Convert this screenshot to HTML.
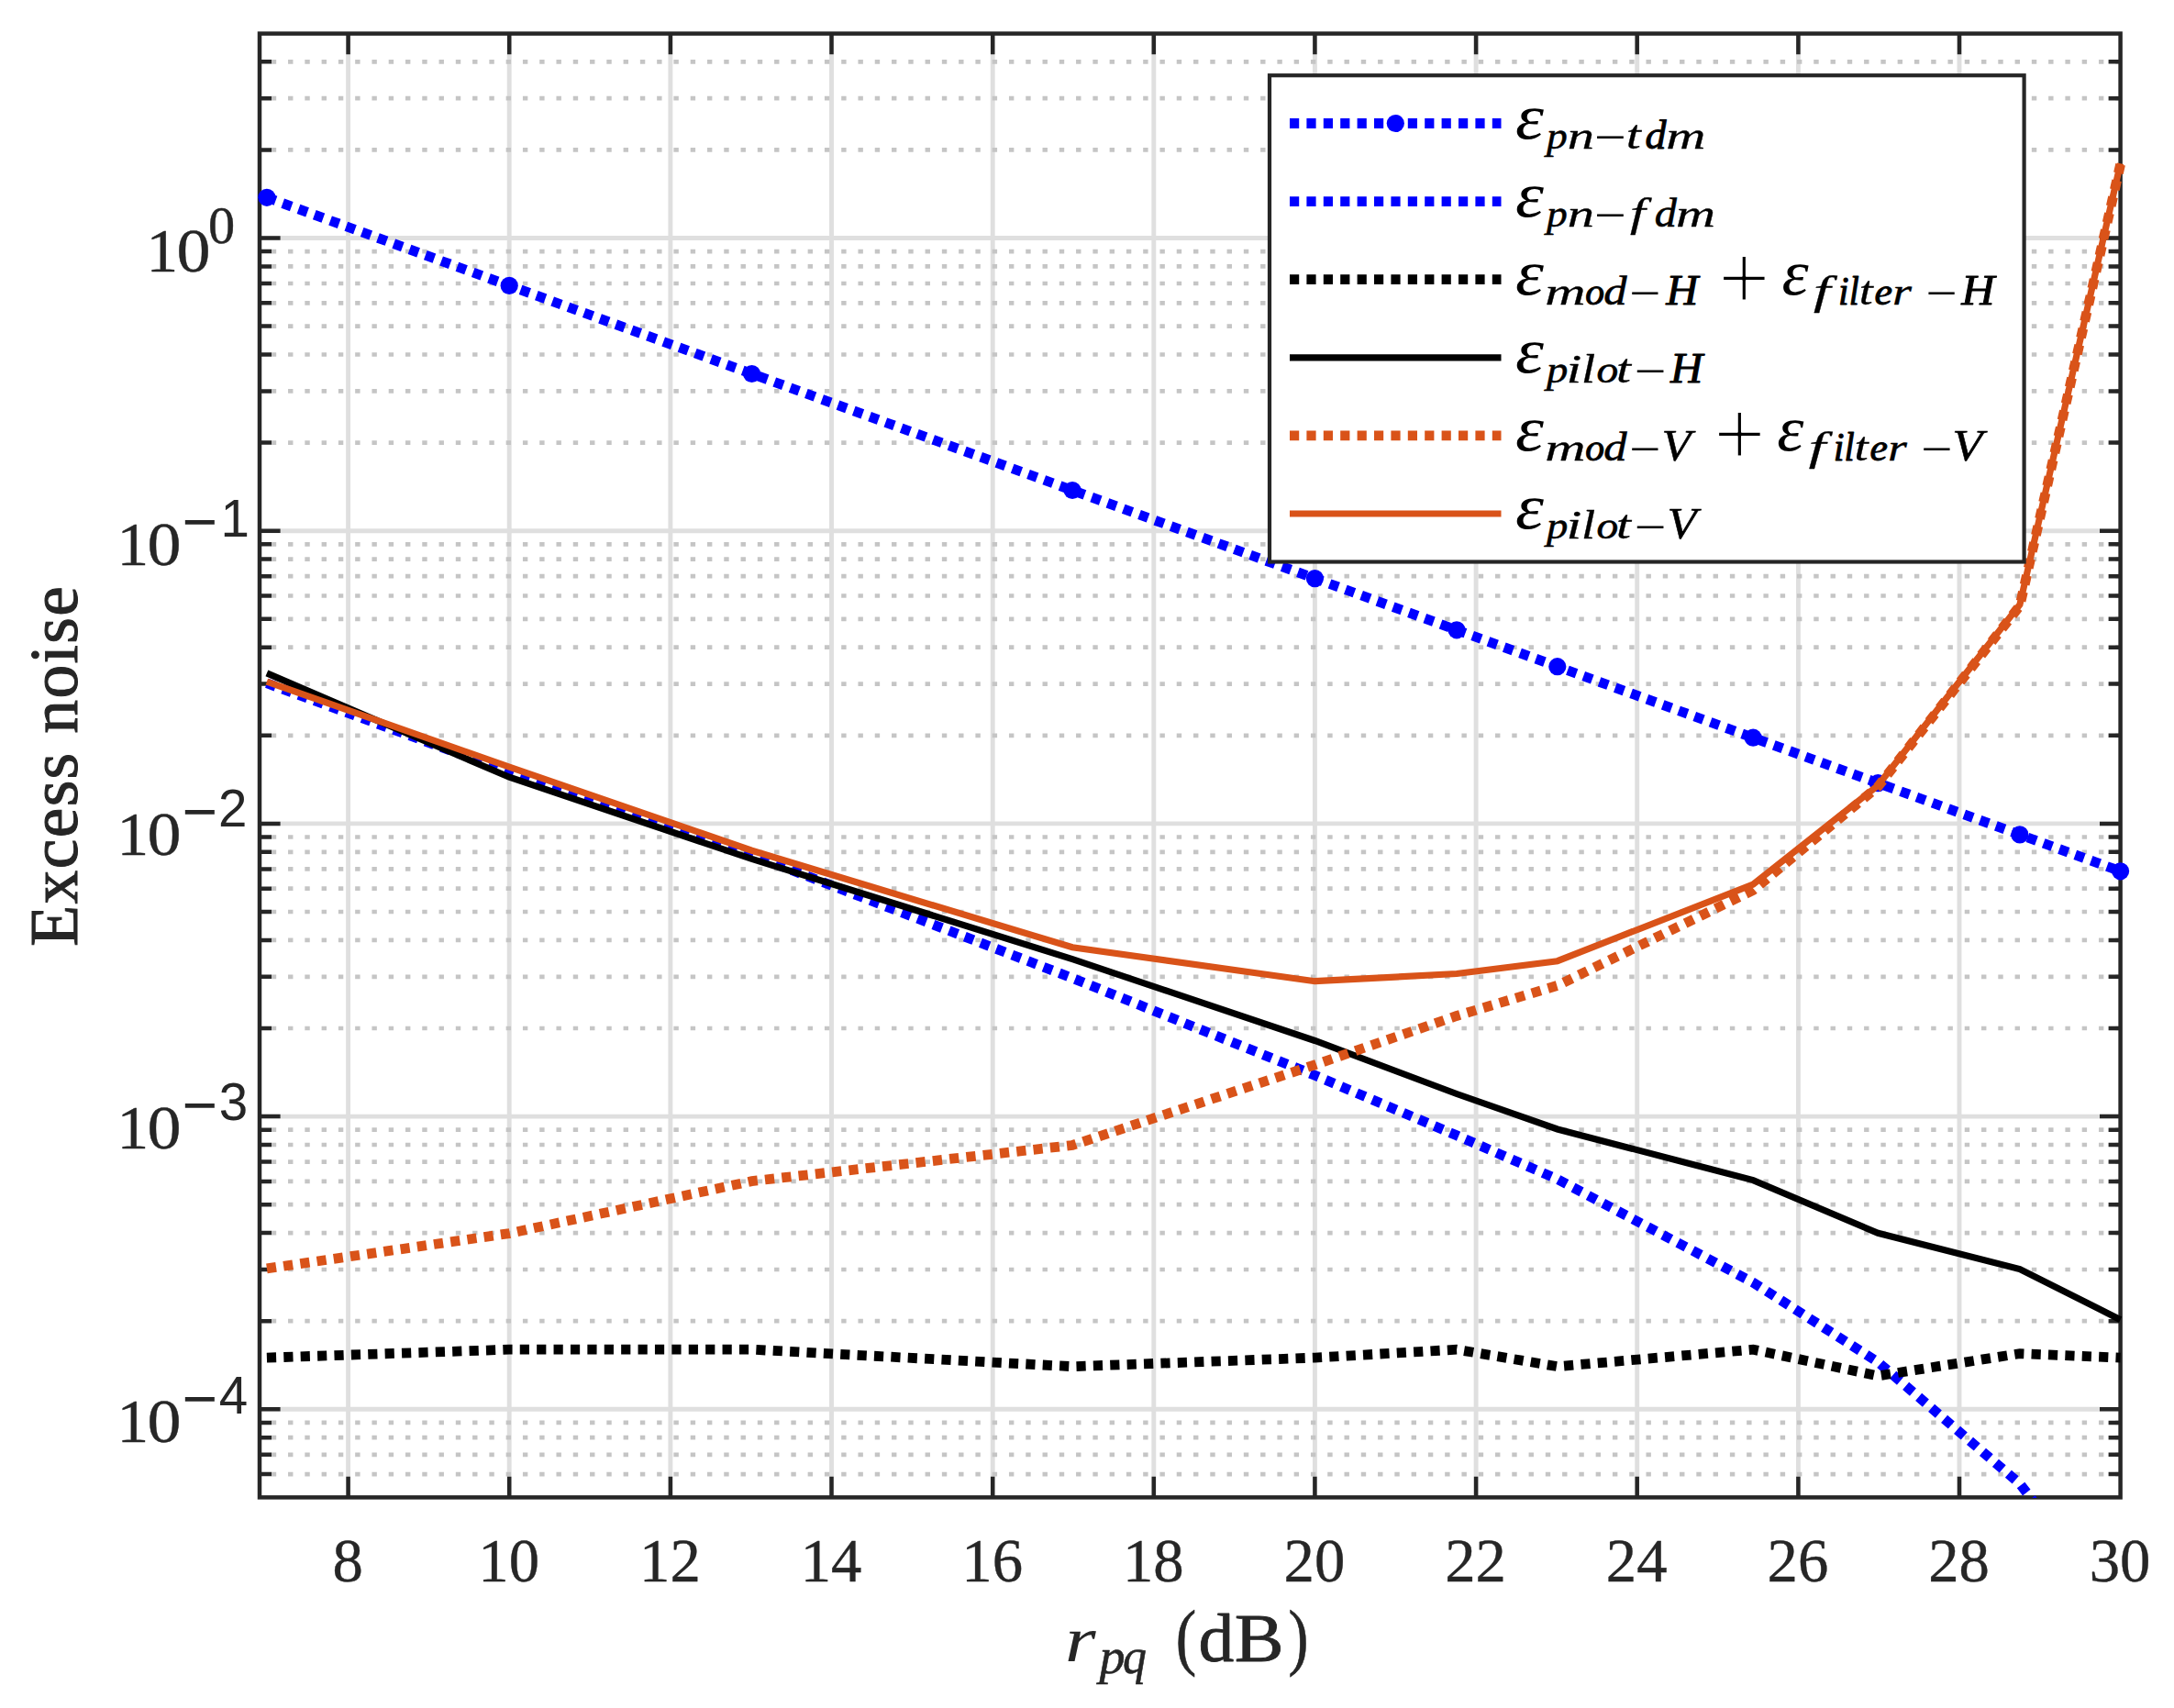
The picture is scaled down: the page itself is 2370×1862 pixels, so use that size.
<!DOCTYPE html>
<html lang="en"><head><meta charset="utf-8"><title>Excess noise vs r_pq</title>
<style>html,body{margin:0;padding:0;background:#fff}svg{display:block}text{font-family:"Liberation Serif",serif;fill:#262626}.it{font-style:italic}.sans{font-family:"Liberation Sans",sans-serif}.lg text,.lg{fill:#000}</style></head><body>
<svg width="2370" height="1862" viewBox="0 0 2370 1862">
<rect x="0" y="0" width="2370" height="1862" fill="#fff"/>
<defs><clipPath id="ax"><rect x="277.0" y="36.6" width="2040.6" height="1596.4"/></clipPath></defs>
<path d="M379.6 36.6V1632.4M555.2 36.6V1632.4M730.9 36.6V1632.4M906.5 36.6V1632.4M1082.2 36.6V1632.4M1257.8 36.6V1632.4M1433.4 36.6V1632.4M1609.1 36.6V1632.4M1784.7 36.6V1632.4M1960.4 36.6V1632.4M2136.0 36.6V1632.4M283.0 1536.3H2311.6M283.0 1217.1H2311.6M283.0 897.9H2311.6M283.0 578.7H2311.6M283.0 259.5H2311.6" stroke="#dfdfdf" stroke-width="4.9" fill="none"/>
<path d="M283.0 1607.1H2311.6M283.0 1585.8H2311.6M283.0 1567.2H2311.6M283.0 1550.9H2311.6M283.0 1440.2H2311.6M283.0 1384.0H2311.6M283.0 1344.1H2311.6M283.0 1313.2H2311.6M283.0 1287.9H2311.6M283.0 1266.6H2311.6M283.0 1248.0H2311.6M283.0 1231.7H2311.6M283.0 1121.0H2311.6M283.0 1064.8H2311.6M283.0 1024.9H2311.6M283.0 994.0H2311.6M283.0 968.7H2311.6M283.0 947.4H2311.6M283.0 928.8H2311.6M283.0 912.5H2311.6M283.0 801.8H2311.6M283.0 745.6H2311.6M283.0 705.7H2311.6M283.0 674.8H2311.6M283.0 649.5H2311.6M283.0 628.2H2311.6M283.0 609.6H2311.6M283.0 593.3H2311.6M283.0 482.6H2311.6M283.0 426.4H2311.6M283.0 386.5H2311.6M283.0 355.6H2311.6M283.0 330.3H2311.6M283.0 309.0H2311.6M283.0 290.4H2311.6M283.0 274.1H2311.6M283.0 163.4H2311.6M283.0 107.2H2311.6M283.0 67.3H2311.6" stroke="#c5c5c5" stroke-width="4.7" stroke-dasharray="5.4 12.877" stroke-dashoffset="5.5" fill="none"/>
<g stroke="#262626" stroke-width="4.5" fill="none" stroke-linecap="butt">
<rect x="283.0" y="36.6" width="2028.6" height="1595.8000000000002"/>
<path d="M379.6 1632.4V1609.8M379.6 36.6V59.2"/>
<path d="M555.2 1632.4V1609.8M555.2 36.6V59.2"/>
<path d="M730.9 1632.4V1609.8M730.9 36.6V59.2"/>
<path d="M906.5 1632.4V1609.8M906.5 36.6V59.2"/>
<path d="M1082.2 1632.4V1609.8M1082.2 36.6V59.2"/>
<path d="M1257.8 1632.4V1609.8M1257.8 36.6V59.2"/>
<path d="M1433.4 1632.4V1609.8M1433.4 36.6V59.2"/>
<path d="M1609.1 1632.4V1609.8M1609.1 36.6V59.2"/>
<path d="M1784.7 1632.4V1609.8M1784.7 36.6V59.2"/>
<path d="M1960.4 1632.4V1609.8M1960.4 36.6V59.2"/>
<path d="M2136.0 1632.4V1609.8M2136.0 36.6V59.2"/>
<path d="M283.0 1536.3H305.6M2311.6 1536.3H2289.0"/>
<path d="M283.0 1217.1H305.6M2311.6 1217.1H2289.0"/>
<path d="M283.0 897.9H305.6M2311.6 897.9H2289.0"/>
<path d="M283.0 578.7H305.6M2311.6 578.7H2289.0"/>
<path d="M283.0 259.5H305.6M2311.6 259.5H2289.0"/>
<path d="M283.0 1607.1H296.0M2311.6 1607.1H2298.6"/>
<path d="M283.0 1585.8H296.0M2311.6 1585.8H2298.6"/>
<path d="M283.0 1567.2H296.0M2311.6 1567.2H2298.6"/>
<path d="M283.0 1550.9H296.0M2311.6 1550.9H2298.6"/>
<path d="M283.0 1440.2H296.0M2311.6 1440.2H2298.6"/>
<path d="M283.0 1384.0H296.0M2311.6 1384.0H2298.6"/>
<path d="M283.0 1344.1H296.0M2311.6 1344.1H2298.6"/>
<path d="M283.0 1313.2H296.0M2311.6 1313.2H2298.6"/>
<path d="M283.0 1287.9H296.0M2311.6 1287.9H2298.6"/>
<path d="M283.0 1266.6H296.0M2311.6 1266.6H2298.6"/>
<path d="M283.0 1248.0H296.0M2311.6 1248.0H2298.6"/>
<path d="M283.0 1231.7H296.0M2311.6 1231.7H2298.6"/>
<path d="M283.0 1121.0H296.0M2311.6 1121.0H2298.6"/>
<path d="M283.0 1064.8H296.0M2311.6 1064.8H2298.6"/>
<path d="M283.0 1024.9H296.0M2311.6 1024.9H2298.6"/>
<path d="M283.0 994.0H296.0M2311.6 994.0H2298.6"/>
<path d="M283.0 968.7H296.0M2311.6 968.7H2298.6"/>
<path d="M283.0 947.4H296.0M2311.6 947.4H2298.6"/>
<path d="M283.0 928.8H296.0M2311.6 928.8H2298.6"/>
<path d="M283.0 912.5H296.0M2311.6 912.5H2298.6"/>
<path d="M283.0 801.8H296.0M2311.6 801.8H2298.6"/>
<path d="M283.0 745.6H296.0M2311.6 745.6H2298.6"/>
<path d="M283.0 705.7H296.0M2311.6 705.7H2298.6"/>
<path d="M283.0 674.8H296.0M2311.6 674.8H2298.6"/>
<path d="M283.0 649.5H296.0M2311.6 649.5H2298.6"/>
<path d="M283.0 628.2H296.0M2311.6 628.2H2298.6"/>
<path d="M283.0 609.6H296.0M2311.6 609.6H2298.6"/>
<path d="M283.0 593.3H296.0M2311.6 593.3H2298.6"/>
<path d="M283.0 482.6H296.0M2311.6 482.6H2298.6"/>
<path d="M283.0 426.4H296.0M2311.6 426.4H2298.6"/>
<path d="M283.0 386.5H296.0M2311.6 386.5H2298.6"/>
<path d="M283.0 355.6H296.0M2311.6 355.6H2298.6"/>
<path d="M283.0 330.3H296.0M2311.6 330.3H2298.6"/>
<path d="M283.0 309.0H296.0M2311.6 309.0H2298.6"/>
<path d="M283.0 290.4H296.0M2311.6 290.4H2298.6"/>
<path d="M283.0 274.1H296.0M2311.6 274.1H2298.6"/>
<path d="M283.0 163.4H296.0M2311.6 163.4H2298.6"/>
<path d="M283.0 107.2H296.0M2311.6 107.2H2298.6"/>
<path d="M283.0 67.3H296.0M2311.6 67.3H2298.6"/>
</g>
<g clip-path="url(#ax)" fill="none" stroke-linejoin="miter">
<polyline points="290.9,215.3 555.2,311.4 819.6,407.5 1169.1,534.5 1433.4,630.6 1588.0,686.8 1697.8,726.7 1911.2,804.2 2047.3,853.7 2201.9,909.9 2311.6,949.8" stroke="#0000ff" stroke-width="10.8" stroke-dasharray="10.2 8.2"/>
</g>
<g fill="#0000ff">
<circle cx="290.9" cy="215.3" r="9.6"/>
<circle cx="555.2" cy="311.4" r="9.6"/>
<circle cx="819.6" cy="407.5" r="9.6"/>
<circle cx="1169.1" cy="534.5" r="9.6"/>
<circle cx="1433.4" cy="630.6" r="9.6"/>
<circle cx="1588.0" cy="686.8" r="9.6"/>
<circle cx="1697.8" cy="726.7" r="9.6"/>
<circle cx="1911.2" cy="804.2" r="9.6"/>
<circle cx="2047.3" cy="853.7" r="9.6"/>
<circle cx="2201.9" cy="909.9" r="9.6"/>
<circle cx="2311.6" cy="949.8" r="9.6"/>
</g>
<g clip-path="url(#ax)" fill="none" stroke-linejoin="miter">
<polyline points="290.9,744.8 555.2,841.6 819.6,931.8 1169.1,1066.3 1433.4,1172.3 1588.0,1237.8 1697.8,1285.5 1911.2,1398.2 2047.3,1484.9 2201.9,1617.5 2311.6,1760.0" stroke="#0000ff" stroke-width="10.8" stroke-dasharray="10.2 8.2"/>
<polyline points="290.9,1480.1 555.2,1471.2 819.6,1471.2 1169.1,1489.7 1433.4,1480.1 1588.0,1471.2 1697.8,1489.7 1911.2,1471.2 2047.3,1499.9 2201.9,1475.6 2311.6,1480.1" stroke="#000000" stroke-width="10.8" stroke-dasharray="10.2 8.2"/>
<polyline points="290.9,733.9 555.2,847.2 819.6,936.4 1169.1,1045.6 1433.4,1134.5 1588.0,1192.5 1697.8,1231.0 1911.2,1286.6 2047.3,1344.3 2201.9,1383.6 2311.6,1438.7" stroke="#000000" stroke-width="7.2"/>
<polyline points="290.9,1382.9 555.2,1344.6 819.6,1287.6 1169.1,1248.5 1433.4,1160.8 1588.0,1107.5 1697.8,1074.4 1911.2,970.5 2047.3,857.5 2201.9,660.5 2311.6,179.3" stroke="#d95319" stroke-width="10.8" stroke-dasharray="10.2 8.2"/>
<polyline points="290.9,743.1 555.2,836.1 819.6,927.2 1169.1,1032.8 1433.4,1069.7 1588.0,1061.5 1697.8,1047.7 1911.2,964.0 2047.3,856.2 2201.9,659.2 2311.6,178.3" stroke="#d95319" stroke-width="7.2"/>
</g>
<text font-size="68.4" text-anchor="middle" stroke="#262626" stroke-width="0.4" transform="translate(379.1 1724.4) scale(0.975 1)">8</text>
<text font-size="68.4" text-anchor="middle" stroke="#262626" stroke-width="0.4" transform="translate(554.7 1724.4) scale(0.975 1)">10</text>
<text font-size="68.4" text-anchor="middle" stroke="#262626" stroke-width="0.4" transform="translate(730.4 1724.4) scale(0.975 1)">12</text>
<text font-size="68.4" text-anchor="middle" stroke="#262626" stroke-width="0.4" transform="translate(906.0 1724.4) scale(0.975 1)">14</text>
<text font-size="68.4" text-anchor="middle" stroke="#262626" stroke-width="0.4" transform="translate(1081.7 1724.4) scale(0.975 1)">16</text>
<text font-size="68.4" text-anchor="middle" stroke="#262626" stroke-width="0.4" transform="translate(1257.3 1724.4) scale(0.975 1)">18</text>
<text font-size="68.4" text-anchor="middle" stroke="#262626" stroke-width="0.4" transform="translate(1432.9 1724.4) scale(0.975 1)">20</text>
<text font-size="68.4" text-anchor="middle" stroke="#262626" stroke-width="0.4" transform="translate(1608.6 1724.4) scale(0.975 1)">22</text>
<text font-size="68.4" text-anchor="middle" stroke="#262626" stroke-width="0.4" transform="translate(1784.2 1724.4) scale(0.975 1)">24</text>
<text font-size="68.4" text-anchor="middle" stroke="#262626" stroke-width="0.4" transform="translate(1959.9 1724.4) scale(0.975 1)">26</text>
<text font-size="68.4" text-anchor="middle" stroke="#262626" stroke-width="0.4" transform="translate(2135.5 1724.4) scale(0.975 1)">28</text>
<text font-size="68.4" text-anchor="middle" stroke="#262626" stroke-width="0.4" transform="translate(2311.1 1724.4) scale(0.975 1)">30</text>
<text font-size="68.4" transform="translate(127.51 1572.0) scale(1.013 1)" fill="#262626" stroke="#262626" stroke-width="0.4" vector-effect="non-scaling-stroke" stroke-linejoin="round">1</text>
<text font-size="68.4" transform="translate(160.58 1572.0) scale(1.083 1)" fill="#262626" stroke="#262626" stroke-width="0.4" vector-effect="non-scaling-stroke" stroke-linejoin="round">0</text>
<text class="sans" font-size="66.0" transform="translate(198.65 1547.0) scale(0.998 1)">−</text>
<text class="sans" font-size="56.5" transform="translate(238.70 1540.8) scale(1.000 1)">4</text>
<text font-size="68.4" transform="translate(127.51 1252.0) scale(1.013 1)" fill="#262626" stroke="#262626" stroke-width="0.4" vector-effect="non-scaling-stroke" stroke-linejoin="round">1</text>
<text font-size="68.4" transform="translate(160.58 1252.0) scale(1.083 1)" fill="#262626" stroke="#262626" stroke-width="0.4" vector-effect="non-scaling-stroke" stroke-linejoin="round">0</text>
<text class="sans" font-size="66.0" transform="translate(198.65 1227.0) scale(0.998 1)">−</text>
<text class="sans" font-size="56.5" transform="translate(238.65 1220.8) scale(1.000 1)">3</text>
<text font-size="68.4" transform="translate(127.51 932.0) scale(1.013 1)" fill="#262626" stroke="#262626" stroke-width="0.4" vector-effect="non-scaling-stroke" stroke-linejoin="round">1</text>
<text font-size="68.4" transform="translate(160.58 932.0) scale(1.083 1)" fill="#262626" stroke="#262626" stroke-width="0.4" vector-effect="non-scaling-stroke" stroke-linejoin="round">0</text>
<text class="sans" font-size="66.0" transform="translate(198.65 907.0) scale(0.998 1)">−</text>
<text class="sans" font-size="56.5" transform="translate(237.96 900.8) scale(1.000 1)">2</text>
<text font-size="68.4" transform="translate(127.51 616.4) scale(1.013 1)" fill="#262626" stroke="#262626" stroke-width="0.4" vector-effect="non-scaling-stroke" stroke-linejoin="round">1</text>
<text font-size="68.4" transform="translate(160.58 616.4) scale(1.083 1)" fill="#262626" stroke="#262626" stroke-width="0.4" vector-effect="non-scaling-stroke" stroke-linejoin="round">0</text>
<text class="sans" font-size="66.0" transform="translate(198.65 591.4) scale(0.998 1)">−</text>
<text class="sans" font-size="56.5" transform="translate(240.50 585.2) scale(1.000 1)">1</text>
<text font-size="68.4" transform="translate(159.51 296.4) scale(1.013 1)" fill="#262626" stroke="#262626" stroke-width="0.4" vector-effect="non-scaling-stroke" stroke-linejoin="round">1</text>
<text font-size="68.4" transform="translate(192.58 296.4) scale(1.083 1)" fill="#262626" stroke="#262626" stroke-width="0.4" vector-effect="non-scaling-stroke" stroke-linejoin="round">0</text>
<text font-size="56.6" transform="translate(226.98 265.1) scale(1.030 1)" fill="#262626" stroke="#262626" stroke-width="0.4" vector-effect="non-scaling-stroke" stroke-linejoin="round">0</text>
<text font-size="73.5" text-anchor="middle" stroke="#262626" stroke-width="1" textLength="392.5" lengthAdjust="spacing" transform="translate(84.3 835.4) rotate(-90)" x="0" y="0">Excess noise</text>
<text class="it" font-size="69.0" transform="translate(1160.90 1811.0) scale(1.253 1)" fill="#262626">r</text>
<text class="it" font-size="54.0" transform="translate(1198.38 1823.8) scale(1.038 1)" fill="#262626" stroke="#262626" stroke-width="0.6" vector-effect="non-scaling-stroke" stroke-linejoin="round">p</text>
<text class="it" font-size="54.0" transform="translate(1224.09 1823.8) scale(0.957 1)" fill="#262626" stroke="#262626" stroke-width="0.6" vector-effect="non-scaling-stroke" stroke-linejoin="round">q</text>
<text font-size="80.0" transform="translate(1281.84 1811.0) scale(0.842 1)" fill="#262626" stroke="#262626" stroke-width="0.6" vector-effect="non-scaling-stroke" stroke-linejoin="round">(</text>
<text font-size="73.5" transform="translate(1306.40 1811.0) scale(1.054 1)" fill="#262626" stroke="#262626" stroke-width="0.8" vector-effect="non-scaling-stroke" stroke-linejoin="round">d</text>
<text font-size="73.5" transform="translate(1345.87 1811.0) scale(1.099 1)" fill="#262626" stroke="#262626" stroke-width="0.8" vector-effect="non-scaling-stroke" stroke-linejoin="round">B</text>
<text font-size="80.0" transform="translate(1404.48 1811.0) scale(0.823 1)" fill="#262626" stroke="#262626" stroke-width="0.6" vector-effect="non-scaling-stroke" stroke-linejoin="round">)</text>
<g class="lg">
<rect x="1384.0" y="82.2" width="822.5999999999999" height="530.3" fill="#fff" stroke="#262626" stroke-width="4.2"/>
<line x1="1406" y1="134.5" x2="1636.5" y2="134.5" stroke="#0000ff" stroke-width="10.8" stroke-dasharray="10.2 8.2"/>
<line x1="1406" y1="219.6" x2="1636.5" y2="219.6" stroke="#0000ff" stroke-width="10.8" stroke-dasharray="10.2 8.2"/>
<line x1="1406" y1="304.7" x2="1636.5" y2="304.7" stroke="#000000" stroke-width="10.8" stroke-dasharray="10.2 8.2"/>
<line x1="1406" y1="389.8" x2="1636.5" y2="389.8" stroke="#000000" stroke-width="7.2"/>
<line x1="1406" y1="474.9" x2="1636.5" y2="474.9" stroke="#d95319" stroke-width="10.8" stroke-dasharray="10.2 8.2"/>
<line x1="1406" y1="560.0" x2="1636.5" y2="560.0" stroke="#d95319" stroke-width="7.2"/>
<circle cx="1521.3" cy="134.5" r="9.6" fill="#0000ff"/>
<text class="it" font-size="69.2" transform="translate(1652.11 151.4) scale(1.136 1)" fill="#000">ε</text>
<text class="it" font-size="42.1" transform="translate(1685.96 161.6) scale(1.079 1)" fill="#000" stroke="#000" stroke-width="0.6" vector-effect="non-scaling-stroke" stroke-linejoin="round">p</text>
<text class="it" font-size="42.5" transform="translate(1708.69 161.6) scale(1.377 1)" fill="#000" stroke="#000" stroke-width="0.35" vector-effect="non-scaling-stroke" stroke-linejoin="round">n</text>
<text class="it" font-size="52.0" transform="translate(1733.96 166.5) scale(1.190 1)" fill="#000">−</text>
<text class="it" font-size="45.0" transform="translate(1772.74 161.6) scale(1.282 1)" fill="#000" stroke="#000" stroke-width="0.35" vector-effect="non-scaling-stroke" stroke-linejoin="round">t</text>
<text class="it" font-size="44.0" transform="translate(1793.38 161.6) scale(1.047 1)" fill="#000" stroke="#000" stroke-width="0.95" vector-effect="non-scaling-stroke" stroke-linejoin="round">d</text>
<text class="it" font-size="42.5" transform="translate(1816.21 161.6) scale(1.408 1)" fill="#000" stroke="#000" stroke-width="0.35" vector-effect="non-scaling-stroke" stroke-linejoin="round">m</text>
<text class="it" font-size="69.2" transform="translate(1652.11 236.4) scale(1.136 1)" fill="#000">ε</text>
<text class="it" font-size="42.1" transform="translate(1685.96 246.6) scale(1.079 1)" fill="#000" stroke="#000" stroke-width="0.6" vector-effect="non-scaling-stroke" stroke-linejoin="round">p</text>
<text class="it" font-size="42.5" transform="translate(1708.69 246.6) scale(1.377 1)" fill="#000" stroke="#000" stroke-width="0.35" vector-effect="non-scaling-stroke" stroke-linejoin="round">n</text>
<text class="it" font-size="52.0" transform="translate(1733.96 251.5) scale(1.190 1)" fill="#000">−</text>
<text class="it" font-size="45.0" transform="translate(1777.00 246.6) scale(1.341 1)" fill="#000" stroke="#000" stroke-width="0.35" vector-effect="non-scaling-stroke" stroke-linejoin="round">f</text>
<text class="it" font-size="44.6" transform="translate(1803.84 246.6) scale(1.083 1)" fill="#000" stroke="#000" stroke-width="0.6" vector-effect="non-scaling-stroke" stroke-linejoin="round">d</text>
<text class="it" font-size="42.5" transform="translate(1827.02 246.6) scale(1.405 1)" fill="#000" stroke="#000" stroke-width="0.35" vector-effect="non-scaling-stroke" stroke-linejoin="round">m</text>
<text class="it" font-size="69.2" transform="translate(1652.11 321.4) scale(1.136 1)" fill="#000">ε</text>
<text class="it" font-size="42.5" transform="translate(1684.36 331.6) scale(1.445 1)" fill="#000" stroke="#000" stroke-width="0.35" vector-effect="non-scaling-stroke" stroke-linejoin="round">m</text>
<text class="it" font-size="41.5" transform="translate(1728.13 331.6) scale(1.004 1)" fill="#000" stroke="#000" stroke-width="0.95" vector-effect="non-scaling-stroke" stroke-linejoin="round">o</text>
<text class="it" font-size="44.6" transform="translate(1748.27 331.6) scale(1.135 1)" fill="#000" stroke="#000" stroke-width="0.6" vector-effect="non-scaling-stroke" stroke-linejoin="round">d</text>
<text class="it" font-size="52.0" transform="translate(1772.18 336.5) scale(1.170 1)" fill="#000">−</text>
<text class="it" font-size="47.0" transform="translate(1816.19 331.6) scale(1.030 1)" fill="#000" stroke="#000" stroke-width="0.95" vector-effect="non-scaling-stroke" stroke-linejoin="round">H</text>
<text font-size="103.4" transform="translate(1873.34 338.4) scale(0.962 1)" fill="#000" stroke="#fff" stroke-width="1.8" vector-effect="non-scaling-stroke" stroke-linejoin="round">+</text>
<text class="it" font-size="69.2" transform="translate(1942.41 321.4) scale(1.069 1)" fill="#000">ε</text>
<text class="it" font-size="45.0" transform="translate(1976.93 331.6) scale(1.475 1)" fill="#000" stroke="#000" stroke-width="0.35" vector-effect="non-scaling-stroke" stroke-linejoin="round">f</text>
<text class="it" font-size="44.0" transform="translate(2003.94 331.6) scale(0.953 1)" fill="#000" stroke="#000" stroke-width="0.95" vector-effect="non-scaling-stroke" stroke-linejoin="round">i</text>
<text class="it" font-size="44.0" transform="translate(2015.76 331.6) scale(0.903 1)" fill="#000" stroke="#000" stroke-width="0.95" vector-effect="non-scaling-stroke" stroke-linejoin="round">l</text>
<text class="it" font-size="45.0" transform="translate(2026.81 331.6) scale(1.195 1)" fill="#000" stroke="#000" stroke-width="0.35" vector-effect="non-scaling-stroke" stroke-linejoin="round">t</text>
<text class="it" font-size="41.5" transform="translate(2043.52 331.6) scale(1.058 1)" fill="#000" stroke="#000" stroke-width="0.95" vector-effect="non-scaling-stroke" stroke-linejoin="round">e</text>
<text class="it" font-size="42.5" transform="translate(2062.98 331.6) scale(1.275 1)" fill="#000" stroke="#000" stroke-width="0.35" vector-effect="non-scaling-stroke" stroke-linejoin="round">r</text>
<text class="it" font-size="52.0" transform="translate(2095.48 336.5) scale(1.170 1)" fill="#000">−</text>
<text class="it" font-size="47.0" transform="translate(2138.21 331.6) scale(1.065 1)" fill="#000" stroke="#000" stroke-width="0.95" vector-effect="non-scaling-stroke" stroke-linejoin="round">H</text>
<text class="it" font-size="69.2" transform="translate(1652.11 406.4) scale(1.136 1)" fill="#000">ε</text>
<text class="it" font-size="42.1" transform="translate(1686.03 416.6) scale(1.106 1)" fill="#000" stroke="#000" stroke-width="0.6" vector-effect="non-scaling-stroke" stroke-linejoin="round">p</text>
<text class="it" font-size="45.0" transform="translate(1707.42 416.6) scale(1.338 1)" fill="#000" stroke="#000" stroke-width="0.35" vector-effect="non-scaling-stroke" stroke-linejoin="round">i</text>
<text class="it" font-size="45.0" transform="translate(1723.97 416.6) scale(1.212 1)" fill="#000" stroke="#000" stroke-width="0.35" vector-effect="non-scaling-stroke" stroke-linejoin="round">l</text>
<text class="it" font-size="42.1" transform="translate(1740.59 416.6) scale(1.128 1)" fill="#000" stroke="#000" stroke-width="0.6" vector-effect="non-scaling-stroke" stroke-linejoin="round">o</text>
<text class="it" font-size="45.0" transform="translate(1762.06 416.6) scale(1.273 1)" fill="#000" stroke="#000" stroke-width="0.35" vector-effect="non-scaling-stroke" stroke-linejoin="round">t</text>
<text class="it" font-size="52.0" transform="translate(1777.68 421.5) scale(1.186 1)" fill="#000">−</text>
<text class="it" font-size="47.0" transform="translate(1821.00 416.6) scale(1.038 1)" fill="#000" stroke="#000" stroke-width="0.95" vector-effect="non-scaling-stroke" stroke-linejoin="round">H</text>
<text class="it" font-size="69.2" transform="translate(1652.11 491.4) scale(1.136 1)" fill="#000">ε</text>
<text class="it" font-size="42.5" transform="translate(1684.36 501.6) scale(1.445 1)" fill="#000" stroke="#000" stroke-width="0.35" vector-effect="non-scaling-stroke" stroke-linejoin="round">m</text>
<text class="it" font-size="41.5" transform="translate(1728.13 501.6) scale(1.004 1)" fill="#000" stroke="#000" stroke-width="0.95" vector-effect="non-scaling-stroke" stroke-linejoin="round">o</text>
<text class="it" font-size="44.6" transform="translate(1748.27 501.6) scale(1.135 1)" fill="#000" stroke="#000" stroke-width="0.6" vector-effect="non-scaling-stroke" stroke-linejoin="round">d</text>
<text class="it" font-size="52.0" transform="translate(1772.18 506.5) scale(1.170 1)" fill="#000">−</text>
<text class="it" font-size="47.6" transform="translate(1811.47 501.6) scale(1.098 1)" fill="#000" stroke="#000" stroke-width="0.6" vector-effect="non-scaling-stroke" stroke-linejoin="round">V</text>
<text font-size="103.4" transform="translate(1868.13 508.4) scale(0.964 1)" fill="#000" stroke="#fff" stroke-width="1.8" vector-effect="non-scaling-stroke" stroke-linejoin="round">+</text>
<text class="it" font-size="69.2" transform="translate(1937.21 491.4) scale(1.069 1)" fill="#000">ε</text>
<text class="it" font-size="45.0" transform="translate(1971.73 501.6) scale(1.481 1)" fill="#000" stroke="#000" stroke-width="0.35" vector-effect="non-scaling-stroke" stroke-linejoin="round">f</text>
<text class="it" font-size="44.0" transform="translate(1998.71 501.6) scale(0.965 1)" fill="#000" stroke="#000" stroke-width="0.95" vector-effect="non-scaling-stroke" stroke-linejoin="round">i</text>
<text class="it" font-size="44.0" transform="translate(2010.53 501.6) scale(0.914 1)" fill="#000" stroke="#000" stroke-width="0.95" vector-effect="non-scaling-stroke" stroke-linejoin="round">l</text>
<text class="it" font-size="45.0" transform="translate(2021.58 501.6) scale(1.212 1)" fill="#000" stroke="#000" stroke-width="0.35" vector-effect="non-scaling-stroke" stroke-linejoin="round">t</text>
<text class="it" font-size="41.5" transform="translate(2038.43 501.6) scale(1.052 1)" fill="#000" stroke="#000" stroke-width="0.95" vector-effect="non-scaling-stroke" stroke-linejoin="round">e</text>
<text class="it" font-size="42.5" transform="translate(2057.89 501.6) scale(1.268 1)" fill="#000" stroke="#000" stroke-width="0.35" vector-effect="non-scaling-stroke" stroke-linejoin="round">r</text>
<text class="it" font-size="52.0" transform="translate(2090.26 506.5) scale(1.174 1)" fill="#000">−</text>
<text class="it" font-size="47.6" transform="translate(2128.17 501.6) scale(1.139 1)" fill="#000" stroke="#000" stroke-width="0.6" vector-effect="non-scaling-stroke" stroke-linejoin="round">V</text>
<text class="it" font-size="69.2" transform="translate(1652.11 576.4) scale(1.136 1)" fill="#000">ε</text>
<text class="it" font-size="42.1" transform="translate(1686.03 586.6) scale(1.106 1)" fill="#000" stroke="#000" stroke-width="0.6" vector-effect="non-scaling-stroke" stroke-linejoin="round">p</text>
<text class="it" font-size="45.0" transform="translate(1707.42 586.6) scale(1.338 1)" fill="#000" stroke="#000" stroke-width="0.35" vector-effect="non-scaling-stroke" stroke-linejoin="round">i</text>
<text class="it" font-size="45.0" transform="translate(1723.97 586.6) scale(1.212 1)" fill="#000" stroke="#000" stroke-width="0.35" vector-effect="non-scaling-stroke" stroke-linejoin="round">l</text>
<text class="it" font-size="42.1" transform="translate(1740.59 586.6) scale(1.128 1)" fill="#000" stroke="#000" stroke-width="0.6" vector-effect="non-scaling-stroke" stroke-linejoin="round">o</text>
<text class="it" font-size="45.0" transform="translate(1762.06 586.6) scale(1.273 1)" fill="#000" stroke="#000" stroke-width="0.35" vector-effect="non-scaling-stroke" stroke-linejoin="round">t</text>
<text class="it" font-size="52.0" transform="translate(1777.68 591.5) scale(1.186 1)" fill="#000">−</text>
<text class="it" font-size="47.6" transform="translate(1817.56 586.6) scale(1.104 1)" fill="#000" stroke="#000" stroke-width="0.6" vector-effect="non-scaling-stroke" stroke-linejoin="round">V</text>
</g>
</svg></body></html>
